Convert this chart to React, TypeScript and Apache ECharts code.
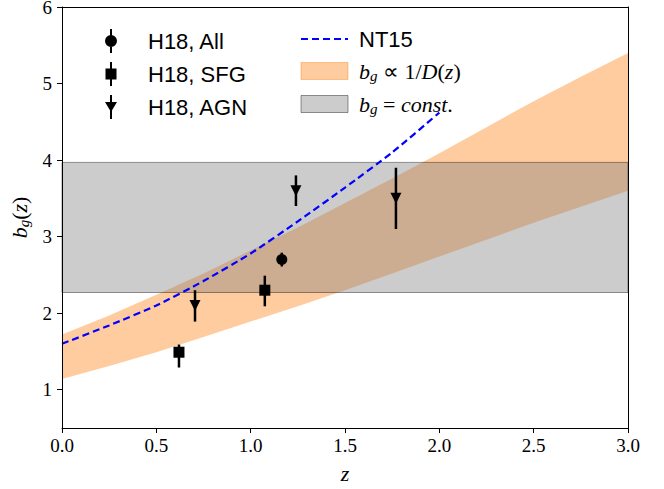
import React, { useEffect, useRef } from 'react';
import * as echarts from 'echarts';

// 1/D(z) band
const bandZ = [0, 0.25, 0.5, 0.75, 1.0, 1.25, 1.5, 1.75, 2.0, 2.25, 2.5, 2.75, 3.0];
const bandLower = [1.14, 1.31, 1.49, 1.69, 1.89, 2.09, 2.30, 2.52, 2.74, 2.96, 3.18, 3.39, 3.60];
const bandUpper = [1.72, 1.97, 2.24, 2.52, 2.82, 3.12, 3.44, 3.76, 4.09, 4.43, 4.77, 5.09, 5.40];

// constant bias band
const constZ = [0, 3];
const constLower = [2.27, 2.27];
const constUpper = [3.97, 3.97];

// NT15 model
const nt15Z = [0, 0.25, 0.5, 0.75, 1.0, 1.25, 1.5, 1.75, 2.0];
const nt15B = [1.60, 1.84, 2.10, 2.42, 2.78, 3.20, 3.64, 4.10, 4.62];

// H18 measurements
const allZ = [1.165];
const allB = [2.70];
const allLo = [2.61];
const allHi = [2.79];

const sfgZ = [0.62, 1.075];
const sfgB = [1.49, 2.30];
const sfgLo = [1.29, 2.09];
const sfgHi = [1.59, 2.49];

const agnZ = [0.705, 1.24, 1.77];
const agnB = [2.10, 3.60, 3.50];
const agnLo = [1.89, 3.40, 3.10];
const agnHi = [2.30, 3.80, 3.90];

const yTicks = [1, 2, 3, 4, 5, 6];

const NAME_ALL = 'H18, All';
const NAME_SFG = 'H18, SFG';
const NAME_AGN = 'H18, AGN';
const NAME_NT = 'NT15';
const NAME_D = 'b_g ∝ 1/D(z)';
const NAME_C = 'b_g = const.';

const ORANGE = 'rgba(255,127,14,0.4)';
const GRAY = 'rgba(128,128,128,0.4)';
const EDGE = 'rgba(0,0,0,0.4)';

const SERIF = 'Liberation Serif';
const SANS = 'Liberation Sans';

const iconAll = 'path://M5 0H7V24H5Z M6 6A6 6 0 1 1 6 18A6 6 0 1 1 6 6Z';
const iconSfg = 'path://M5 0H7V24H5Z M0.5 6.5H11.5V17.5H0.5Z';
const iconAgn = 'path://M5 0H7V24H5Z M0 7H12L6 17Z';

const mathRich = {
  i: { fontFamily: SERIF, fontStyle: 'italic', fontSize: 22, lineHeight: 24, color: '#000' },
  n: { fontFamily: SERIF, fontSize: 22, lineHeight: 24, color: '#000' },
  s: { fontFamily: SERIF, fontStyle: 'italic', fontSize: 15, lineHeight: 14, verticalAlign: 'bottom', color: '#000' },
  sans: { fontFamily: SANS, fontSize: 22, lineHeight: 24, color: '#000' },
};

function bandSeries(name: string, zs: number[], lo: number[], hi: number[], fill: string, stroke: string, z: number) {
  return {
    type: 'custom',
    name,
    z,
    silent: true,
    itemStyle: { color: fill },
    data: zs.map((x, i) => [x, lo[i], hi[i]]),
    encode: { x: 0, y: [1, 2] },
    renderItem: (params: any, api: any) => {
      if (params.dataIndexInside !== 0) return null;
      const pts: number[][] = [];
      for (let i = 0; i < zs.length; i++) pts.push(api.coord([zs[i], hi[i]]));
      for (let i = zs.length - 1; i >= 0; i--) pts.push(api.coord([zs[i], lo[i]]));
      return {
        type: 'polygon',
        shape: { points: pts },
        style: { fill, stroke, lineWidth: 1 },
      };
    },
  };
}

function errSeries(name: string, zs: number[], lo: number[], hi: number[]) {
  return {
    type: 'custom',
    name,
    z: 5,
    silent: true,
    data: zs.map((x, i) => [x, lo[i], hi[i]]),
    encode: { x: 0, y: [1, 2] },
    renderItem: (params: any, api: any) => {
      const a = api.coord([api.value(0), api.value(1)]);
      const b = api.coord([api.value(0), api.value(2)]);
      return {
        type: 'line',
        shape: { x1: a[0], y1: a[1], x2: b[0], y2: b[1] },
        style: { stroke: '#000', lineWidth: 2.5 },
      };
    },
  };
}

function markerSeries(name: string, zs: number[], bs: number[], symbol: string, size: any, rotate = 0) {
  return {
    type: 'scatter',
    name,
    z: 6,
    silent: true,
    symbol,
    symbolSize: size,
    symbolRotate: rotate,
    itemStyle: { color: '#000', opacity: 1 },
    data: zs.map((x, i) => [x, bs[i]]),
  };
}

export default function App() {
  const ref = useRef<HTMLDivElement>(null);
  useEffect(() => {
    if (!ref.current) return;
    const chart = echarts.init(ref.current, null, { renderer: 'svg' });
    const option: any = {
      animation: false,
      backgroundColor: '#fff',
      textStyle: { fontFamily: SERIF },
      grid: { left: 62, right: 36, top: 7, bottom: 61, containLabel: false, outerBoundsMode: 'none' },
      xAxis: [
        {
          type: 'value',
          min: 0,
          max: 3,
          interval: 0.5,
          z: 10,
          name: '{i|z}',
          nameLocation: 'middle',
          nameGap: 33,
          nameTextStyle: { rich: mathRich },
          axisLine: { show: true, onZero: false, lineStyle: { color: '#000', width: 1 } },
          axisTick: { show: true, inside: false, length: 5, lineStyle: { color: '#000' } },
          axisLabel: {
            margin: 8,
            fontFamily: SERIF,
            fontSize: 19,
            color: '#000',
            formatter: (v: number) => v.toFixed(1),
          },
          splitLine: { show: false },
        },
        {
          type: 'value',
          position: 'top',
          min: 0,
          max: 3,
          z: 10,
          axisLine: { show: true, onZero: false, lineStyle: { color: '#000', width: 1 } },
          axisTick: { show: false },
          axisLabel: { show: false },
          splitLine: { show: false },
        },
      ],
      yAxis: [
        {
          type: 'value',
          min: 0.5,
          max: 6,
          z: 10,
          name: '{i|b}{s|g}{n|(}{i|z}{n|)}',
          nameLocation: 'middle',
          nameGap: 25,
          nameTextStyle: { rich: mathRich },
          axisLine: { show: true, onZero: false, lineStyle: { color: '#000', width: 1 } },
          axisTick: { show: true, inside: false, length: 5, customValues: yTicks, lineStyle: { color: '#000' } },
          axisLabel: {
            margin: 10,
            fontFamily: SERIF,
            fontSize: 19,
            lineHeight: 14,
            color: '#000',
            customValues: yTicks,
            formatter: (v: number) => String(Math.round(v)),
          },
          splitLine: { show: false },
        },
        {
          type: 'value',
          position: 'right',
          min: 0.5,
          max: 6,
          z: 10,
          axisLine: { show: true, onZero: false, lineStyle: { color: '#000', width: 1 } },
          axisTick: { show: false },
          axisLabel: { show: false },
          splitLine: { show: false },
        },
      ],
      legend: [
        {
          data: [
            { name: NAME_ALL, icon: iconAll },
            { name: NAME_SFG, icon: iconSfg },
            { name: NAME_AGN, icon: iconAgn },
          ],
          orient: 'vertical',
          left: 100,
          top: 24,
          itemWidth: 12,
          itemHeight: 24,
          itemGap: 9,
          selectedMode: false,
          itemStyle: { color: '#000', opacity: 1 },
          textStyle: { fontFamily: SANS, fontSize: 22, color: '#000', padding: [0, 0, 0, 26] },
        },
        {
          data: [
            { name: NAME_NT, itemStyle: { color: 'transparent', borderWidth: 0, opacity: 0 } },
            { name: NAME_D, icon: 'rect', itemStyle: { color: ORANGE, borderColor: ORANGE, borderWidth: 1 } },
            { name: NAME_C, icon: 'rect', itemStyle: { color: GRAY, borderColor: EDGE, borderWidth: 1 } },
          ],
          orient: 'vertical',
          left: 295,
          top: 23,
          itemWidth: 47,
          itemHeight: 17,
          itemGap: 10,
          selectedMode: false,
          formatter: (name: string) => {
            if (name === NAME_NT) return '{sans|NT15}';
            if (name === NAME_D) return '{i|b}{s|g}{n| ∝ 1/}{i|D}{n|(}{i|z}{n|)}';
            return '{i|b}{s|g}{n| = }{i|const}{n|.}';
          },
          textStyle: { padding: [0, 0, 0, 6], rich: mathRich },
        },
      ],
      series: [
        bandSeries(NAME_D, bandZ, bandLower, bandUpper, ORANGE, 'none', 1),
        bandSeries(NAME_C, constZ, constLower, constUpper, GRAY, EDGE, 2),
        {
          type: 'line',
          name: NAME_NT,
          z: 4,
          silent: true,
          symbol: 'none',
          showSymbol: false,
          smooth: 0.2,
          itemStyle: { color: '#0000ff' },
          lineStyle: { color: '#0000ff', width: 2.2, type: [7, 4] },
          data: nt15Z.map((x, i) => [x, nt15B[i]]),
        },
        errSeries('err all', allZ, allLo, allHi),
        errSeries('err sfg', sfgZ, sfgLo, sfgHi),
        errSeries('err agn', agnZ, agnLo, agnHi),
        markerSeries(NAME_ALL, allZ, allB, 'circle', 11),
        markerSeries(NAME_SFG, sfgZ, sfgB, 'rect', 11),
        markerSeries(NAME_AGN, agnZ, agnB, 'triangle', [11, 11], 180),
      ],
    };
    chart.setOption(option);
    return () => chart.dispose();
  }, []);
  return (
    <div
      ref={ref}
      style={{ position: 'fixed', left: 0, top: 0, width: 664, height: 489, background: '#fff' }}
    />
  );
}
